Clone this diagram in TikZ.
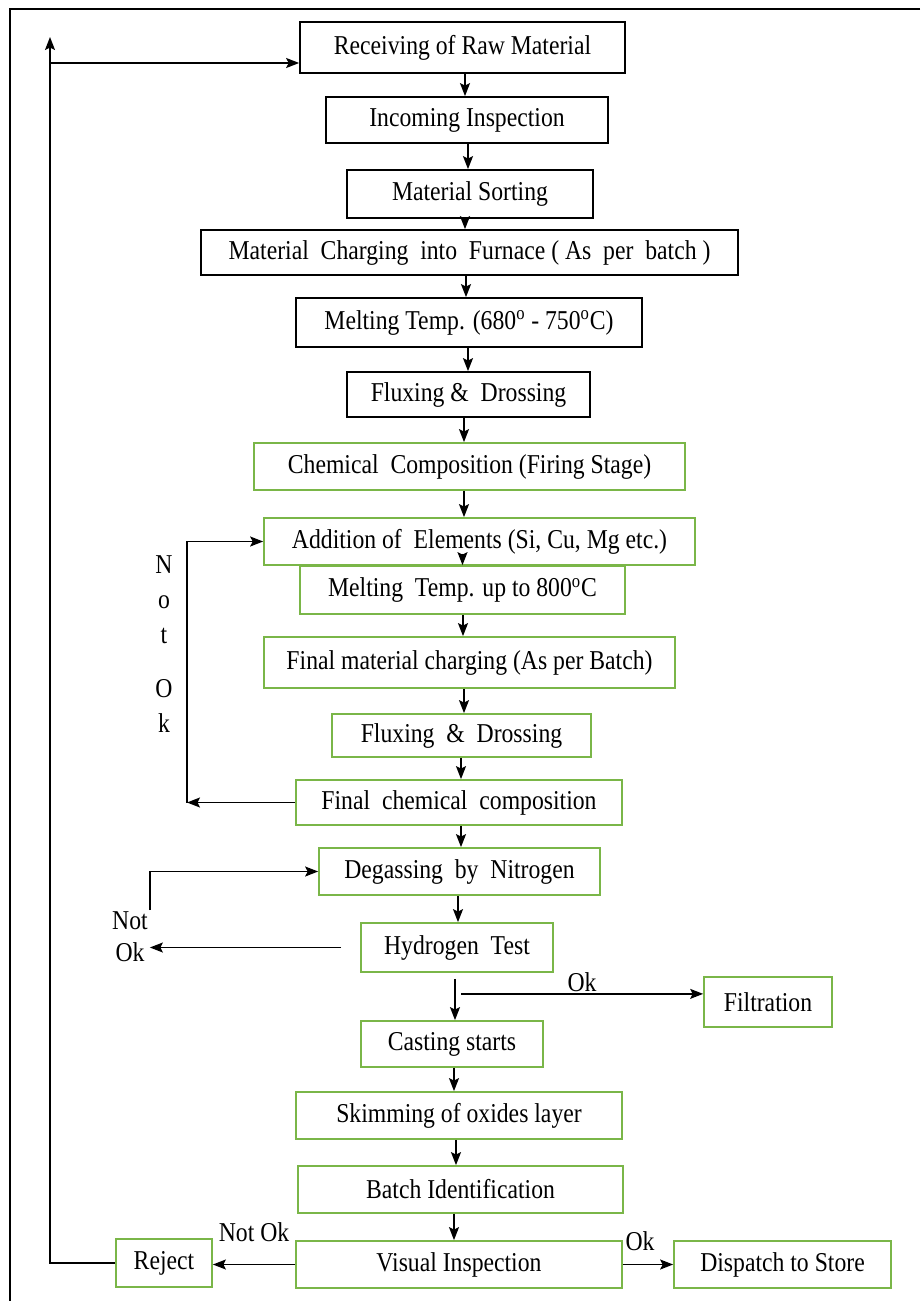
\documentclass[tikz,border=0pt]{standalone}
\usepackage{fontspec}
\setmainfont{Liberation Serif}[FakeStretch=0.87]
\usepackage{tikz}
\usetikzlibrary{arrows.meta,calc}
\definecolor{boxgreen}{HTML}{7AB648}

\begin{document}
\begin{tikzpicture}[x=0.02cm, y=0.02cm,
  font=\fontsize{15.5}{18}\selectfont,
  blk/.style ={draw, line width=1pt, inner sep=2pt, align=center},
  stp/.style ={blk, draw=black},
  chk/.style ={blk, draw=boxgreen},
  ar/.style  ={-{Stealth[length=2.6mm,width=2mm,inset=0.5mm]}, line width=0.8pt},
  lbl/.style ={inner sep=1pt, align=center},
]
\useasboundingbox (0,0) rectangle (920,-1301);
\draw[line width=1pt] (920,-9) -- (10,-9) -- (10,-1301);

% melting line
\node[stp, minimum width=6.5cm,  minimum height=1.02cm] (recv)   at (462.5,-47.5)  {Receiving of Raw Material};
\node[stp, minimum width=5.64cm, minimum height=0.92cm] (incom)  at (467,-120)     {Incoming Inspection};
\node[stp, minimum width=4.92cm, minimum height=0.96cm] (sort)   at (470,-194)     {Material Sorting};
\node[stp, minimum width=10.74cm,minimum height=0.9cm]  (charge) at (469.5,-252.5) {Material \ Charging \ into \ Furnace ( As \ per \ batch )};
\node[stp, minimum width=6.92cm, minimum height=0.98cm] (melt)   at (469,-322.5)   {Melting Temp. (680\textsuperscript{o} - 750\textsuperscript{o}C)};
\node[stp, minimum width=4.86cm, minimum height=0.9cm]  (flux)   at (468.5,-394.5) {Fluxing \& \ Drossing};

% chemistry
\node[chk, minimum width=8.62cm, minimum height=0.94cm] (chem)   at (469.5,-466.5) {Chemical \ Composition (Firing Stage)};
\node[chk, minimum width=8.62cm, minimum height=0.94cm] (addn)   at (479.5,-541.5) {Addition of \ Elements (Si, Cu, Mg etc.)};
\node[chk, minimum width=6.5cm,  minimum height=0.96cm] (melt2)  at (462.5,-590)   {Melting \ Temp. up to 800\textsuperscript{o}C};
\node[chk, minimum width=8.22cm, minimum height=1.02cm] (final)  at (469.5,-662.5) {Final material charging (As per Batch)};
\node[chk, minimum width=5.18cm, minimum height=0.86cm] (flux2)  at (461.5,-735.5) {Fluxing \ \& \ Drossing};
\node[chk, minimum width=6.52cm, minimum height=0.9cm]  (fchem)  at (459,-802.5)   {Final \ chemical \ composition};

% degassing and casting
\node[chk, minimum width=5.62cm, minimum height=0.94cm] (degas)  at (459.5,-871.5) {Degassing \ by \ Nitrogen};
\node[chk, minimum width=3.84cm, minimum height=0.98cm] (hyd)    at (457,-947.5)   {Hydrogen \ Test};
\node[chk, minimum width=2.56cm, minimum height=1cm]    (filt)   at (768,-1002)    {Filtration};
\node[chk, minimum width=3.64cm, minimum height=0.92cm] (cast)   at (452,-1044)    {Casting starts};
\node[chk, minimum width=6.52cm, minimum height=0.94cm] (skim)   at (459,-1115.5)  {Skimming of oxides layer};
\node[chk, minimum width=6.5cm,  minimum height=0.94cm] (batch)  at (460.5,-1189.5){Batch Identification};
\node[chk, minimum width=6.52cm, minimum height=0.94cm] (visual) at (459,-1264.5)  {Visual Inspection};
\node[chk, minimum width=1.92cm, minimum height=0.96cm] (reject) at (164,-1263)    {Reject};
\node[chk, minimum width=4.34cm, minimum height=0.94cm] (disp)   at (782.5,-1264.5){Dispatch to Store};

% straight flow
\foreach \a/\b/\x in {recv/incom/465, incom/sort/468, sort/charge/465, charge/melt/466,
    melt/flux/468, flux/chem/464, chem/addn/464, melt2/final/463, final/flux2/464,
    flux2/fchem/461, fchem/degas/461, degas/hyd/458, cast/skim/454, skim/batch/456,
    batch/visual/454}
  \draw[ar] (\x,0 |- \a.south) -- (\x,0 |- \b.north);
\draw[ar] ($(addn.center -| melt2.north)+(0,-12)$) -- (melt2.north);

% hydrogen test
\coordinate (hdown) at ($(hyd.south)+(-2,-6)$);
\coordinate (okbr) at ($(hdown)+(6,-15)$);
\draw[ar] (hdown) -- (hdown |- cast.north);
\draw[ar] (okbr) -- (okbr -| filt.west) node[lbl, midway, above] {Ok};

\node[lbl] (nok2) at (130,-937) {Not\\Ok};
\draw[ar] ($(hyd.west)+(-19,0)$) -- (hyd.west -| nok2.east);
\draw[ar] (nok2.north east) |- (degas.west);

% chemistry loop
\coordinate (nk) at (187,0 |- fchem.west);
\draw[ar] (fchem.west) -- (nk);
\draw[ar] (nk) |- (addn.west);
\node[lbl, font=\fontsize{15.5}{19.9}\selectfont] (nok) at (164,-644) {N\\o\\t\\[11pt]O\\k};

% inspection
\draw[ar] (visual.west) -- (visual.west -| reject.east)
  node[lbl, midway, above=0.4cm] {Not Ok};
\draw[ar] (visual.east) -- (visual.east -| disp.west)
  node[lbl, midway, above=0.22cm, xshift=-0.16cm] {Ok};

% back to receiving
\coordinate (fbtop) at (50,-37);
\coordinate (fbmid) at (50,-63);
\draw[ar] (reject.west) -| (fbtop);
\draw[ar] (fbmid) -- (fbmid -| recv.west);

\end{tikzpicture}
\end{document}
